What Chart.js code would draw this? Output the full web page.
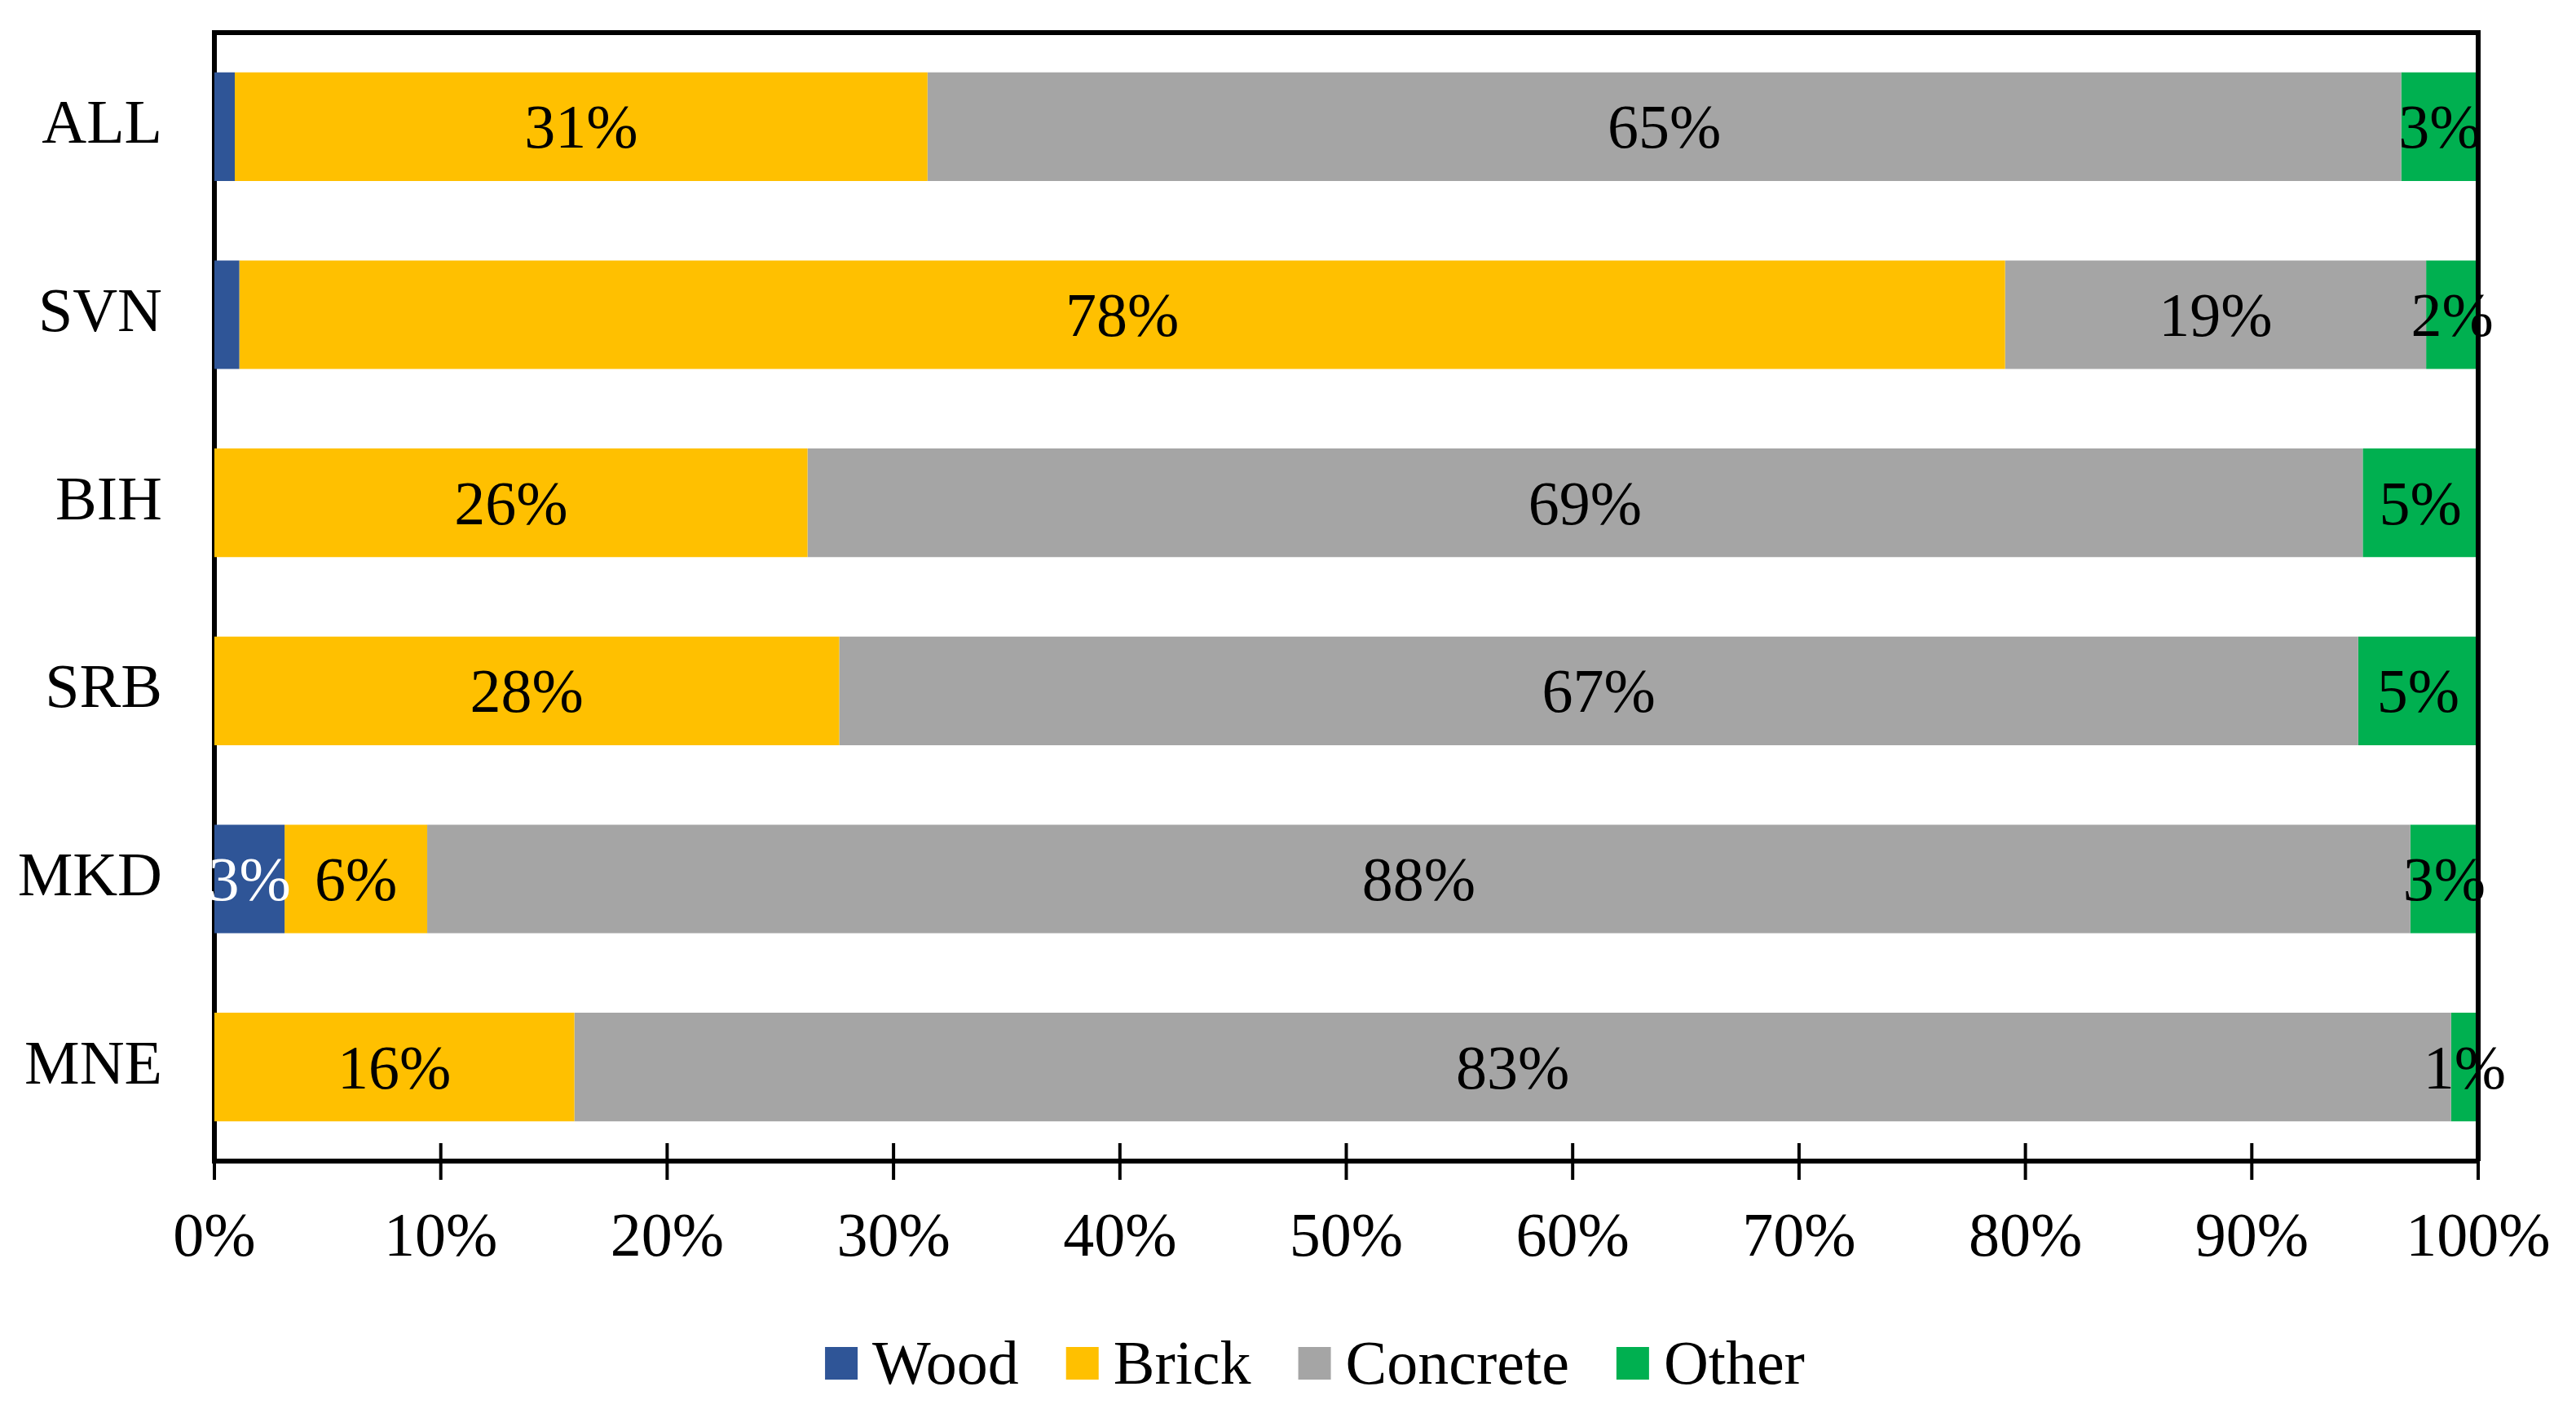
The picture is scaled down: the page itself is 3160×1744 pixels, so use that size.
<!DOCTYPE html>
<html>
<head>
<meta charset="utf-8">
<script src="https://cdn.jsdelivr.net/npm/chart.js@4.4.1/dist/chart.umd.min.js"></script>
<style>
  body { margin: 0; background: #fff; }
</style>
</head>
<body>
<canvas id="myChart" width="3160" height="1744"></canvas>
<script>
// country groups, top to bottom
const countries = ["ALL", "SVN", "BIH", "SRB", "MKD", "MNE"];
// share of buildings by material (%)
const wood = [0.9, 1.1, 0, 0, 3.1, 0];
const brick = [30.6, 78.0, 26.2, 27.6, 6.3, 15.9];
const concrete = [65.1, 18.6, 68.7, 67.1, 87.6, 82.9];
const other = [3.4, 2.3, 5.1, 5.3, 3.0, 1.2];
const xTicks = [0, 10, 20, 30, 40, 50, 60, 70, 80, 90, 100];

const FONT = "'Liberation Serif', 'Times New Roman', serif";

// no extra room for half tick labels, the plot box is set by the layout padding
function noPad(scale) {
  scale.paddingLeft = 0;
  scale.paddingRight = 0;
  scale.paddingTop = 0;
  scale.paddingBottom = 0;
}

// labels in the middle of each segment, small ones left out
const segmentLabels = {
  id: "segmentLabels",
  afterDatasetsDraw(chart) {
    const ctx = chart.ctx;
    ctx.save();
    ctx.font = "76px " + FONT;
    ctx.textAlign = "center";
    ctx.textBaseline = "alphabetic";
    chart.data.datasets.forEach(function(ds, i) {
      const meta = chart.getDatasetMeta(i);
      meta.data.forEach(function(bar, j) {
        const v = ds.data[j];
        if (v < 1) return;
        if (i === 0 && v < 2) return;
        ctx.fillStyle = i === 0 ? "#ffffff" : "#000000";
        ctx.fillText(Math.round(v) + "%", (bar.x + bar.base) / 2, bar.y + 26);
      });
    });
    ctx.restore();
  }
};

// box round the plot, ticks crossing the bottom axis, and the legend
const frame = {
  id: "frame",
  afterDraw(chart) {
    const ctx = chart.ctx;
    const a = chart.chartArea;
    const x = chart.scales.x;
    ctx.save();
    ctx.strokeStyle = "#000";
    ctx.lineWidth = 6;
    ctx.beginPath();
    ctx.moveTo(a.left - 3, a.top);
    ctx.lineTo(a.right, a.top);
    ctx.lineTo(a.right, a.bottom);
    ctx.stroke();
    ctx.lineWidth = 4;
    xTicks.forEach(function(t) {
      const px = x.getPixelForValue(t);
      ctx.beginPath();
      ctx.moveTo(px, a.bottom - 22);
      ctx.lineTo(px, a.bottom + 23);
      ctx.stroke();
    });

    // legend: box 40px, 18px to the text, 58px to the next box
    ctx.font = "76px " + FONT;
    ctx.textAlign = "left";
    ctx.textBaseline = "alphabetic";
    const items = chart.data.datasets.map(function(ds) {
      return { text: ds.label, color: ds.backgroundColor, w: ctx.measureText(ds.label).width };
    });
    let total = 0;
    items.forEach(function(it, i) { total += 40 + 18 + it.w + (i < items.length - 1 ? 58 : 0); });
    let lx = 1613 - total / 2;
    items.forEach(function(it) {
      ctx.fillStyle = it.color;
      ctx.fillRect(lx, 1652, 40, 40);
      ctx.fillStyle = "#000";
      ctx.fillText(it.text, lx + 58, 1697);
      lx += 40 + 18 + it.w + 58;
    });
    ctx.restore();
  }
};

const ctx = document.getElementById("myChart").getContext("2d");
new Chart(ctx, {
  type: "bar",
  data: {
    labels: countries,
    datasets: [
      { label: "Wood", data: wood, backgroundColor: "#2F5597" },
      { label: "Brick", data: brick, backgroundColor: "#FFC000" },
      { label: "Concrete", data: concrete, backgroundColor: "#A5A5A5" },
      { label: "Other", data: other, backgroundColor: "#00B050" }
    ]
  },
  options: {
    indexAxis: "y",
    responsive: false,
    devicePixelRatio: 1,
    animation: false,
    categoryPercentage: 1,
    barPercentage: 0.577,
    layout: { padding: { left: 0, right: 120, top: 40, bottom: 130 } },
    scales: {
      x: {
        stacked: true,
        min: 0,
        max: 100,
        afterBuildTicks: function(scale) {
          scale.ticks = xTicks.map(function(v) { return { value: v }; });
        },
        afterFit: function(scale) { scale.height = 190; noPad(scale); },
        grid: { display: false, drawTicks: false },
        border: { display: true, color: "#000", width: 6 },
        ticks: {
          padding: 50,
          color: "#000",
          font: { family: FONT, size: 76 },
          maxRotation: 0,
          callback: function(v) { return v + "%"; }
        }
      },
      y: {
        stacked: true,
        afterFit: function(scale) { scale.width = 263; noPad(scale); },
        grid: { display: false, drawTicks: false },
        border: { display: true, color: "#000", width: 6 },
        ticks: {
          padding: 64,
          color: "#000",
          font: { family: FONT, size: 76 }
        }
      }
    },
    plugins: {
      legend: { display: false },
      tooltip: { enabled: false }
    }
  },
  plugins: [segmentLabels, frame]
});
</script>
</body>
</html>
